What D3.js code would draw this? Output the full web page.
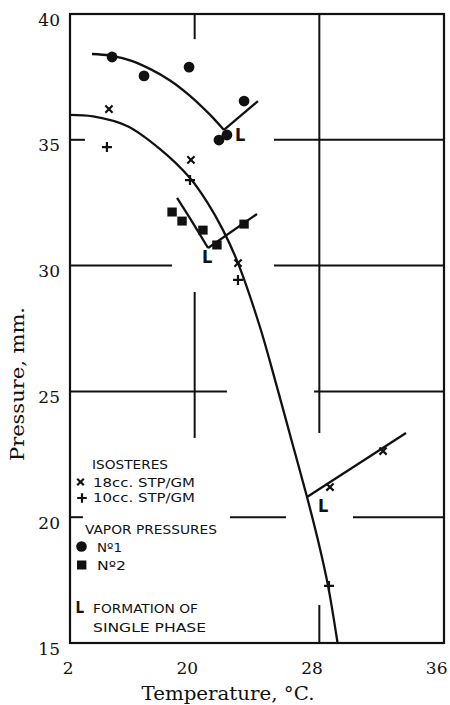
<!DOCTYPE html>
<html>
<head>
<meta charset="utf-8">
<script src="https://cdn.jsdelivr.net/npm/d3@7"></script>
<style>
  html, body { margin: 0; padding: 0; background: #fff; }
  svg { display: block; }
</style>
</head>
<body>
<svg id="chart" width="450" height="705"></svg>
<script>
// Axis ticks
const tempTicks = [12, 20, 28, 36];
const tempTickLabels = ["2", "20", "28", "36"];
const pressTicks = [15, 20, 25, 30, 35, 40];

// Isostere points [temperature °C, pressure mm]
const isostere18 = [[14.50, 36.22], [19.76, 34.20], [22.78, 30.10], [28.68, 21.20], [32.09, 22.63]];
const isostere10 = [[14.37, 34.71], [19.70, 33.40], [22.78, 29.43], [28.62, 17.27]];

// Vapor pressure points
const vapor1 = [[14.70, 38.29], [16.75, 37.54], [19.64, 37.89], [23.17, 36.54], [21.56, 34.99], [22.07, 35.19]];
const vapor2 = [[18.55, 32.13], [19.19, 31.77], [20.53, 31.41], [21.43, 30.82], [23.17, 31.65]];

// Smooth curves
const curveMain = [[12.0, 35.99], [13.48, 35.93], [15.66, 35.55], [17.78, 34.63], [19.70, 33.48],
                   [20.79, 32.53], [21.82, 31.41], [22.78, 30.10], [24.19, 27.56], [25.16, 25.45],
                   [26.21, 23.07], [27.21, 20.80], [27.91, 19.09], [28.56, 17.27], [29.17, 15.00]];
const curveVapor1 = [[13.41, 38.41], [14.57, 38.35], [15.85, 38.16], [17.13, 37.82], [18.42, 37.36],
                     [19.70, 36.75], [20.98, 36.00], [21.88, 35.39]];
const curveVapor2 = [[18.87, 32.69], [19.90, 31.68], [20.86, 30.70]];

// Straight branches leaving the single-phase points
const tieLines = [
  [[21.88, 35.39], [24.06, 36.54]],
  [[20.86, 30.70], [24.00, 32.05]],
  [[27.21, 20.80], [33.56, 23.35]]
];
// "L" markers: formation of single phase
const singlePhase = [[22.59, 34.95], [20.47, 30.10], [27.91, 20.21]];

// Broken grid segments, in data units
const gridH = [
  [35, 12, 12.96], [35, 25.09, 36],
  [30, 12, 18.55], [30, 25.09, 36],
  [25, 12, 22.07], [25, 27.66, 36],
  [20, 12, 12.83], [20, 22.27, 25.86], [20, 30.16, 36]
];
const gridV = [
  [20, 40, 39.0], [20, 28.95, 23.15],
  [28, 40, 23.35], [28, 16.51, 15]
];

const svg = d3.select("#chart");
const x = d3.scaleLinear().domain([12, 36]).range([70, 444]);
const y = d3.scaleLinear().domain([15, 40]).range([643, 14]);

const ink = "#111";
const serif = "'DejaVu Serif', 'Liberation Serif', serif";
const sans = "'DejaVu Sans Condensed', 'DejaVu Sans', 'Liberation Sans', sans-serif";

// Grid
const g = svg.append("g").attr("stroke", ink).attr("stroke-width", 2).attr("fill", "none");
g.selectAll("line.h").data(gridH).join("line").attr("class", "h")
  .attr("x1", d => x(d[1])).attr("x2", d => x(d[2]))
  .attr("y1", d => y(d[0])).attr("y2", d => y(d[0]));
g.selectAll("line.v").data(gridV).join("line").attr("class", "v")
  .attr("x1", d => x(d[0])).attr("x2", d => x(d[0]))
  .attr("y1", d => y(d[1])).attr("y2", d => y(d[2]));

// Frame
svg.append("rect")
  .attr("x", x(12)).attr("y", y(40))
  .attr("width", x(36) - x(12)).attr("height", y(15) - y(40))
  .attr("fill", "none").attr("stroke", ink).attr("stroke-width", 2.2);

// Axes
const xAxis = svg.append("g").attr("transform", `translate(0,${y(15)})`)
  .call(d3.axisBottom(x).tickValues(tempTicks).tickSize(0).tickPadding(0)
    .tickFormat((d, i) => tempTickLabels[i]));
xAxis.select(".domain").remove();
xAxis.selectAll("text")
  .attr("font-family", serif).attr("font-size", 17).attr("fill", ink)
  .attr("text-anchor", "end").attr("dx", 3).attr("dy", 0).attr("y", 31);

const yAxis = svg.append("g").attr("transform", `translate(${x(12)},0)`)
  .call(d3.axisLeft(y).tickValues(pressTicks).tickSize(0).tickPadding(10)
    .tickFormat(d3.format("d")));
yAxis.select(".domain").remove();
yAxis.selectAll("text")
  .attr("font-family", serif).attr("font-size", 17).attr("fill", ink)
  .attr("dy", 11);

// Axis titles
svg.append("text")
  .attr("x", 228).attr("y", 700).attr("text-anchor", "middle")
  .attr("font-family", serif).attr("font-size", 18).attr("fill", ink)
  .attr("textLength", 173).attr("lengthAdjust", "spacingAndGlyphs")
  .text("Temperature, °C.");
svg.append("text")
  .attr("transform", "translate(24,384) rotate(-90)").attr("text-anchor", "middle")
  .attr("font-family", serif).attr("font-size", 18).attr("fill", ink)
  .attr("textLength", 154).attr("lengthAdjust", "spacingAndGlyphs")
  .text("Pressure, mm.");

// Curves
const smooth = d3.line().x(d => x(d[0])).y(d => y(d[1])).curve(d3.curveCatmullRom.alpha(0.5));
const straight = d3.line().x(d => x(d[0])).y(d => y(d[1]));
const curves = svg.append("g").attr("fill", "none").attr("stroke", ink).attr("stroke-width", 2.3);
[curveMain, curveVapor1, curveVapor2].forEach(c => curves.append("path").attr("d", smooth(c)));
tieLines.forEach(t => curves.append("path").attr("d", straight(t)));

// Marker shapes
const crossX = s => `M${-s},${-s}L${s},${s}M${-s},${s}L${s},${-s}`;
const crossP = s => `M${-s},0L${s},0M0,${-s}L0,${s}`;

const marks = svg.append("g");
marks.selectAll("path.x18").data(isostere18).join("path").attr("class", "x18")
  .attr("transform", d => `translate(${x(d[0])},${y(d[1])})`)
  .attr("d", crossX(3.6)).attr("stroke", ink).attr("stroke-width", 2.2).attr("fill", "none");
marks.selectAll("path.p10").data(isostere10).join("path").attr("class", "p10")
  .attr("transform", d => `translate(${x(d[0])},${y(d[1])})`)
  .attr("d", crossP(5)).attr("stroke", ink).attr("stroke-width", 2.2).attr("fill", "none");
marks.selectAll("circle").data(vapor1).join("circle")
  .attr("cx", d => x(d[0])).attr("cy", d => y(d[1])).attr("r", 5.4).attr("fill", ink);
marks.selectAll("rect").data(vapor2).join("rect")
  .attr("x", d => x(d[0]) - 4.7).attr("y", d => y(d[1]) - 4.5)
  .attr("width", 9.4).attr("height", 9).attr("fill", ink);
marks.selectAll("text").data(singlePhase).join("text")
  .attr("x", d => x(d[0])).attr("y", d => y(d[1]))
  .attr("font-family", sans).attr("font-weight", "bold").attr("font-size", 18).attr("fill", ink)
  .text("L");

// Legend
const leg = svg.append("g").attr("font-family", sans).attr("font-size", 13).attr("fill", ink);
const legText = [
  ["ISOSTERES", 92, 469, 76],
  ["18cc. STP/GM", 93, 487, 102],
  ["10cc. STP/GM", 93, 502, 102],
  ["VAPOR PRESSURES", 85, 534, 132],
  ["Nº1", 97, 552, 25],
  ["Nº2", 97, 570, 29],
  ["FORMATION OF", 93, 613, 105],
  ["SINGLE PHASE", 93, 632, 113]
];
leg.selectAll("text").data(legText).join("text")
  .attr("x", d => d[1]).attr("y", d => d[2])
  .attr("textLength", d => d[3]).attr("lengthAdjust", "spacingAndGlyphs")
  .text(d => d[0]);
leg.append("path").attr("transform", "translate(80.5,482)").attr("d", crossX(3.3))
  .attr("stroke", ink).attr("stroke-width", 2.2).attr("fill", "none");
leg.append("path").attr("transform", "translate(82,498)").attr("d", crossP(4.8))
  .attr("stroke", ink).attr("stroke-width", 2.2).attr("fill", "none");
leg.append("circle").attr("cx", 81.5).attr("cy", 546.5).attr("r", 5.3);
leg.append("rect").attr("x", 77).attr("y", 560.5).attr("width", 9.4).attr("height", 9);
leg.append("text").attr("x", 75.5).attr("y", 612.5).attr("font-weight", "bold").attr("font-size", 15).text("L");
</script>
</body>
</html>
